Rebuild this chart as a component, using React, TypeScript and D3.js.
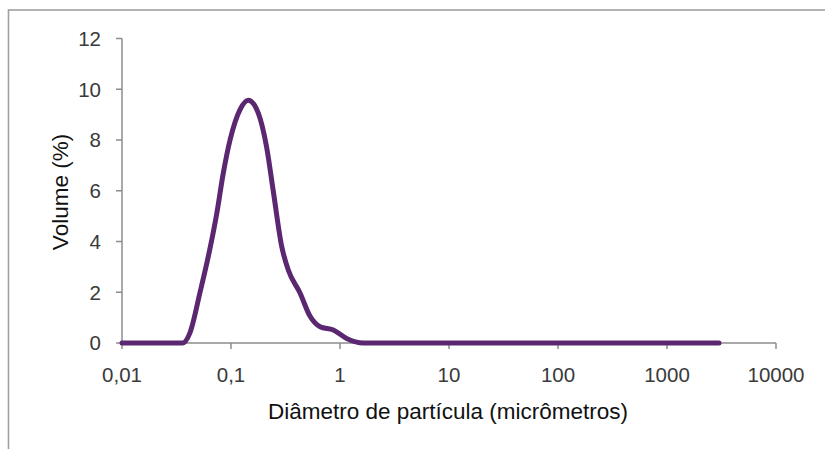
import React from "react";
import * as d3 from "d3";

const diameters = [0.01, 0.036, 0.042, 0.052, 0.064, 0.074, 0.085, 0.098, 0.121, 0.144, 0.178, 0.212, 0.244, 0.292, 0.336, 0.43, 0.53, 0.656, 0.869, 1.15, 1.63, 3000];
const volumes = [0, 0, 0.4, 2.0, 3.7, 5.1, 6.7, 8.0, 9.2, 9.57, 9.06, 7.73, 6.0, 3.8, 2.87, 1.97, 1.06, 0.64, 0.51, 0.18, 0, 0];
const xTicks = [0.01, 0.1, 1, 10, 100, 1000, 10000];
const xTickLabels = ["0,01", "0,1", "1", "10", "100", "1000", "10000"];
const yTicks = [0, 2, 4, 6, 8, 10, 12];

export default function App() {
  const W = 825, H = 449;
  const x = d3.scaleLog().domain([0.01, 10000]).range([122, 776]);
  const y = d3.scaleLinear().domain([0, 12]).range([343, 38.5]);
  const pts = diameters.map((d, i) => [d, volumes[i]] as [number, number]);
  const line = d3.line<[number, number]>()
    .x(d => x(d[0]))
    .y(d => y(d[1]))
    .curve(d3.curveMonotoneX);
  const font = "'Liberation Sans', Arial, sans-serif";
  const axisColor = "#8c8c8c";
  const textColor = "#3a3a3a";
  return (
    <svg width={W} height={H} style={{ position: "absolute", left: 0, top: 0, background: "#fff" }}>
      <rect x={8.5} y={10} width={W + 20} height={H + 20} fill="none" stroke="#a0a0a0" strokeWidth={1.6} />
      <line x1={122} x2={122} y1={y(12)} y2={y(0)} stroke={axisColor} strokeWidth={1.5} />
      {yTicks.map(t => (
        <g key={"y" + t}>
          <line x1={116} x2={122} y1={y(t)} y2={y(t)} stroke={axisColor} strokeWidth={1.5} />
          <text x={101} y={y(t)} dy="0.36em" textAnchor="end" fontFamily={font} fontSize={20.5} fill={textColor}>{t}</text>
        </g>
      ))}
      <line x1={x(0.01)} x2={x(10000)} y1={y(0)} y2={y(0)} stroke={axisColor} strokeWidth={1.5} />
      {xTicks.map((t, i) => (
        <g key={"x" + t}>
          <line x1={x(t)} x2={x(t)} y1={y(0)} y2={y(0) + 6} stroke={axisColor} strokeWidth={1.5} />
          <text x={x(t)} y={382} textAnchor="middle" fontFamily={font} fontSize={20.5} fill={textColor}>{xTickLabels[i]}</text>
        </g>
      ))}
      <path d={line(pts) || ""} fill="none" stroke="#5a2770" strokeWidth={5} strokeLinejoin="round" strokeLinecap="round" />
      <text transform={`translate(68,192) rotate(-90)`} textAnchor="middle" fontFamily={font} fontSize={22.5} fill="#111">Volume (%)</text>
      <text x={448} y={419} textAnchor="middle" fontFamily={font} fontSize={22.5} fill="#111">Diâmetro de partícula (micrômetros)</text>
    </svg>
  );
}
